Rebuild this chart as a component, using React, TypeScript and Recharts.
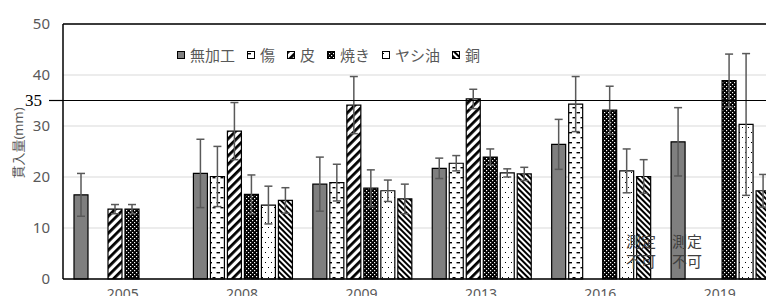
import { BarChart, Bar, XAxis, YAxis, CartesianGrid, ReferenceLine, ErrorBar } from 'recharts';

const years = ['2005', '2008', '2009', '2013', '2016', '2019'];

const mukako = [16.5, 20.7, 18.6, 21.7, 26.4, 26.9];
const mukakoErr = [4.2, 6.7, 5.3, 2.0, 4.9, 6.7];
const kizu = [null, 20.1, 18.9, 22.7, 34.3, null];
const kizuErr = [null, 5.9, 3.6, 1.5, 5.4, null];
const kawa = [13.7, 29.0, 34.1, 35.3, null, null];
const kawaErr = [0.9, 5.6, 5.6, 1.9, null, null];
const yaki = [13.7, 16.6, 17.8, 23.9, 33.1, 38.9];
const yakiErr = [0.9, 3.8, 3.6, 1.6, 4.7, 5.2];
const yashi = [null, 14.5, 17.3, 20.8, 21.2, 30.3];
const yashiErr = [null, 3.7, 2.1, 0.8, 4.3, 13.9];
const dou = [null, 15.4, 15.7, 20.6, 20.1, 17.3];
const douErr = [null, 2.5, 2.9, 1.3, 3.3, 3.2];

const yTicks = [0, 10, 20, 30, 40, 50];
const limit = 35;
const noteText = ['測定', '不可'];

const SERIES = [
  { key: 'mukako', name: '無加工', fill: '#7f7f7f', values: mukako, err: mukakoErr },
  { key: 'kizu', name: '傷', fill: 'url(#pKizu)', values: kizu, err: kizuErr },
  { key: 'kawa', name: '皮', fill: 'url(#pKawa)', values: kawa, err: kawaErr },
  { key: 'yaki', name: '焼き', fill: 'url(#pYaki)', values: yaki, err: yakiErr },
  { key: 'yashi', name: 'ヤシ油', fill: 'url(#pYashi)', values: yashi, err: yashiErr },
  { key: 'dou', name: '銅', fill: 'url(#pDou)', values: dou, err: douErr },
];

const data = years.map((year, i) => {
  const row: Record<string, string | number | null> = { year };
  SERIES.forEach((s) => {
    row[s.key] = s.values[i];
    row[s.key + 'Err'] = s.err[i];
  });
  return row;
});

const GRAY = '#595959';
const FONT = "'Noto Sans', 'Noto Sans CJK JP', sans-serif";

function Patterns() {
  return (
    <svg width={0} height={0} style={{ position: 'absolute' }}>
      <defs>
        <pattern id="pKizu" patternUnits="userSpaceOnUse" width="8" height="10">
          <rect width="8" height="10" fill="#fff" />
          <rect x="0.5" y="2" width="3.5" height="1.4" fill="#000" />
          <rect x="4.5" y="7" width="3" height="1.4" fill="#000" />
        </pattern>
        <pattern id="pKawa" patternUnits="userSpaceOnUse" width="6" height="6" patternTransform="rotate(45)">
          <rect width="6" height="6" fill="#fff" />
          <rect width="2.8" height="6" fill="#000" />
        </pattern>
        <pattern id="pYaki" patternUnits="userSpaceOnUse" width="4" height="4">
          <rect width="4" height="4" fill="#000" />
          <rect x="0" y="0" width="1.2" height="1.2" fill="#fff" />
          <rect x="2" y="2" width="1.2" height="1.2" fill="#fff" />
        </pattern>
        <pattern id="pYashi" patternUnits="userSpaceOnUse" width="6" height="10">
          <rect width="6" height="10" fill="#fff" />
          <rect x="1" y="2" width="1" height="1" fill="#000" />
          <rect x="4" y="7" width="1" height="1" fill="#000" />
        </pattern>
        <pattern id="pDou" patternUnits="userSpaceOnUse" width="4" height="4" patternTransform="rotate(-45)">
          <rect width="4" height="4" fill="#fff" />
          <rect width="2" height="4" fill="#000" />
        </pattern>
      </defs>
    </svg>
  );
}

function LegendBox() {
  return (
    <div style={{ position: 'absolute', left: 177, top: 46, display: 'flex', alignItems: 'center', fontFamily: FONT, fontSize: 15, color: GRAY, lineHeight: '18px' }}>
      {SERIES.map((s) => (
        <div key={s.key} style={{ display: 'flex', alignItems: 'center', marginRight: 12 }}>
          <svg width={8} height={8} style={{ marginRight: 5 }}>
            <rect x={0.5} y={0.5} width={7} height={7} fill={s.fill} stroke="#000" strokeWidth={1} />
          </svg>
          <span>{s.name}</span>
        </div>
      ))}
    </div>
  );
}

function YLabel() {
  return (
    <text x={18} y={143} transform="rotate(-90 18 143)" textAnchor="middle" dominantBaseline="central" fill={GRAY} fontSize={13} fontFamily={FONT}>
      貫入量(mm)
    </text>
  );
}

function LimitLabel(props: any) {
  const { viewBox } = props;
  const x = viewBox.x;
  const y = viewBox.y;
  return (
    <g>
      <line x1={x - 14} x2={x} y1={y} y2={y} stroke="#000" strokeWidth={1.2} />
      <text x={x - 21} y={y} textAnchor="end" dominantBaseline="central" fontFamily="'Liberation Serif', serif" fontSize={17} fill="#000">
        {limit}
      </text>
    </g>
  );
}

const noteStyle = { position: 'absolute' as const, top: 231, fontFamily: "'Noto Sans CJK JP', sans-serif", fontSize: 15, lineHeight: '20px', color: '#404040' };

export default function App() {
  return (
    <div style={{ position: 'relative', width: 774, height: 304, margin: -8, overflow: 'hidden', background: '#fff', fontFamily: FONT }}>
      <Patterns />
      <div style={{ position: 'absolute', left: 2, top: 9, width: 1, height: 295, background: '#d9d9d9' }} />
      <div style={{ position: 'absolute', left: 0, top: 0 }}>
        <BarChart width={790} height={304} data={data} margin={{ top: 24, right: 10.5, bottom: 0, left: 0 }} barCategoryGap={11} barGap={3}>
          <CartesianGrid vertical={false} stroke="#d9d9d9" strokeWidth={1} />
          <XAxis dataKey="year" height={25} tickLine={false} tickSize={0} tickMargin={10} axisLine={{ stroke: '#000', strokeWidth: 1.5 }} tick={{ fill: GRAY, fontSize: 14, fontFamily: FONT }} />
          <YAxis width={63} domain={[0, 50]} ticks={yTicks} tickLine={false} tickSize={0} tickMargin={13} axisLine={{ stroke: '#000', strokeWidth: 1.5 }} tick={{ fill: GRAY, fontSize: 15, fontFamily: FONT }} label={<YLabel />} />
          <ReferenceLine y={50} stroke="#000" strokeWidth={1.5} />
          {SERIES.map((s) => (
            <Bar key={s.key} dataKey={s.key} name={s.name} fill={s.fill} stroke="#000" strokeWidth={1.2} isAnimationActive={false}>
              <ErrorBar dataKey={s.key + 'Err'} width={4} stroke={GRAY} strokeWidth={1.5} direction="y" />
            </Bar>
          ))}
          <ReferenceLine y={limit} stroke="#000" strokeWidth={1.2} label={<LimitLabel />} />
        </BarChart>
      </div>
      <LegendBox />
      <div style={{ ...noteStyle, left: 626 }}>{noteText[0]}<br />{noteText[1]}</div>
      <div style={{ ...noteStyle, left: 672 }}>{noteText[0]}<br />{noteText[1]}</div>
    </div>
  );
}
